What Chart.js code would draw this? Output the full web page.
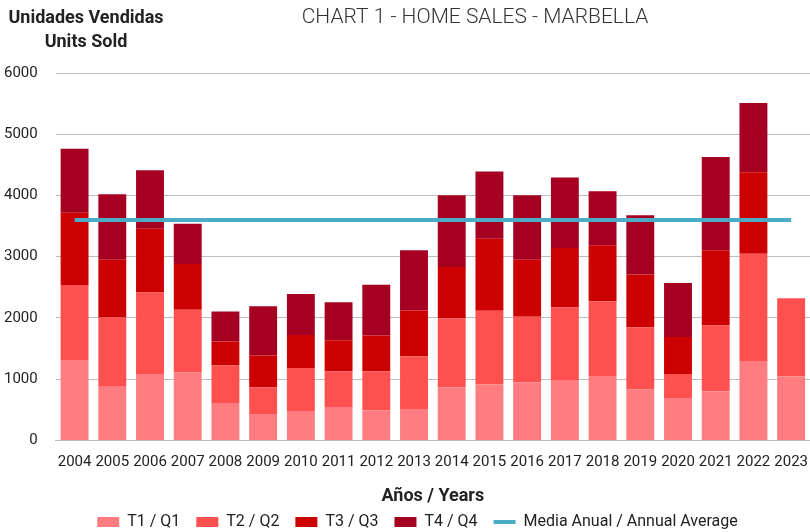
<!DOCTYPE html>
<html>
<head>
<meta charset="utf-8">
<script src="https://cdn.jsdelivr.net/npm/chart.js@4"></script>
<style>
  body { margin: 0; background: #fff; }
  #wrap { width: 810px; height: 532px; }
</style>
</head>
<body>
<div id="wrap"><canvas id="chart" width="810" height="532"></canvas></div>
<script>
// DATA
const years = ['2004','2005','2006','2007','2008','2009','2010','2011','2012','2013',
               '2014','2015','2016','2017','2018','2019','2020','2021','2022','2023'];
const q1 = [1314, 878, 1085, 1107, 611, 431, 480, 535, 491, 512, 867, 911, 949, 976, 1052, 834, 692, 802, 1298, 1042];
const q2 = [1222, 1129, 1331, 1026, 611, 436, 703, 594, 638, 862, 1129, 1205, 1069, 1195, 1222, 1009, 393, 1074, 1750, 1281];
const q3 = [1183, 943, 1042, 747, 392, 518, 540, 507, 584, 748, 834, 1178, 932, 970, 911, 868, 605, 1228, 1332, null];
const q4 = [1042, 1070, 955, 660, 491, 807, 666, 622, 828, 982, 1173, 1096, 1053, 1151, 884, 965, 879, 1526, 1129, null];
const annualAvg = [3600, 3600, 3600, 3600, 3600, 3600, 3600, 3600, 3600, 3600,
                   3600, 3600, 3600, 3600, 3600, 3600, 3600, 3600, 3600, 3600];
const yTicks = [0, 1000, 2000, 3000, 4000, 5000, 6000];

const FONT = 'Roboto';

// header texts (title + units label)
const headerText = {
    id: 'headerText',
    afterDraw(chart) {
        const ctx = chart.ctx;
        ctx.save();
        ctx.fillStyle = '#222';
        ctx.textBaseline = 'middle';
        ctx.textAlign = 'center';
        ctx.font = `bold 18px ${FONT}`;
        ctx.fillText('Unidades Vendidas', 86, 18);
        ctx.fillText('Units Sold', 86, 42);
        ctx.fillStyle = '#333';
        ctx.font = `300 21px ${FONT}`;
        ctx.fillText('CHART 1 - HOME SALES - MARBELLA', 475, 18);
        ctx.restore();
    }
};

// nudge the legend a bit to the right, like the original
const legendShift = {
    id: 'legendShift',
    afterLayout(chart) {
        if (chart.legend) chart.legend.left += 39;
    }
};

function barSet(label, data, color) {
    return {
        type: 'bar', label, data,
        backgroundColor: color,
        borderWidth: 0,
        stack: 'q',
        order: 1,
        pointStyle: 'rect',
        barPercentage: 0.74,
        categoryPercentage: 1
    };
}

new Chart(document.getElementById('chart'), {
    data: {
        labels: years,
        datasets: [
            barSet('T1 / Q1', q1, '#FF7C80'),
            barSet('T2 / Q2', q2, '#FF5050'),
            barSet('T3 / Q3', q3, '#CC0000'),
            barSet('T4 / Q4', q4, '#A50021'),
            {
                type: 'line',
                label: 'Media Anual / Annual Average',
                data: annualAvg,
                borderColor: '#4BACC6',
                backgroundColor: '#4BACC6',
                borderWidth: 4,
                pointRadius: 0,
                pointStyle: 'line',
                stack: 'avg',
                order: 0
            }
        ]
    },
    options: {
        responsive: false,
        animation: false,
        layout: { padding: { top: 73, left: -14, right: 0, bottom: -8 } },
        plugins: {
            legend: {
                position: 'bottom',
                labels: {
                    usePointStyle: true,
                    pointStyleWidth: 22,
                    boxHeight: 10,
                    padding: 16,
                    color: '#222',
                    font: { family: FONT, size: 16 },
                    sort: (a, b) => a.datasetIndex - b.datasetIndex
                }
            },
            tooltip: { enabled: false }
        },
        scales: {
            x: {
                stacked: true,
                afterFit: (axis) => { axis.paddingRight = 0; },
                grid: { display: false, drawTicks: false },
                border: { color: '#bbb' },
                ticks: { color: '#222', font: { family: FONT, size: 15 }, padding: 13, maxRotation: 0, autoSkip: false },
                title: {
                    display: true,
                    text: 'Años / Years',
                    color: '#222',
                    font: { family: FONT, size: 18, weight: 'bold' },
                    padding: { top: 1, bottom: -9 }
                }
            },
            y: {
                stacked: true,
                min: 0, max: 6000,
                afterBuildTicks: (axis) => { axis.ticks = yTicks.map(v => ({ value: v })); },
                grid: { color: '#bdbdbd', drawTicks: false },
                border: { display: false },
                ticks: {
                    color: '#222', font: { family: FONT, size: 15 }, padding: 18,
                    callback: (v) => String(v)
                }
            }
        }
    },
    plugins: [headerText, legendShift]
});
</script>
</body>
</html>
